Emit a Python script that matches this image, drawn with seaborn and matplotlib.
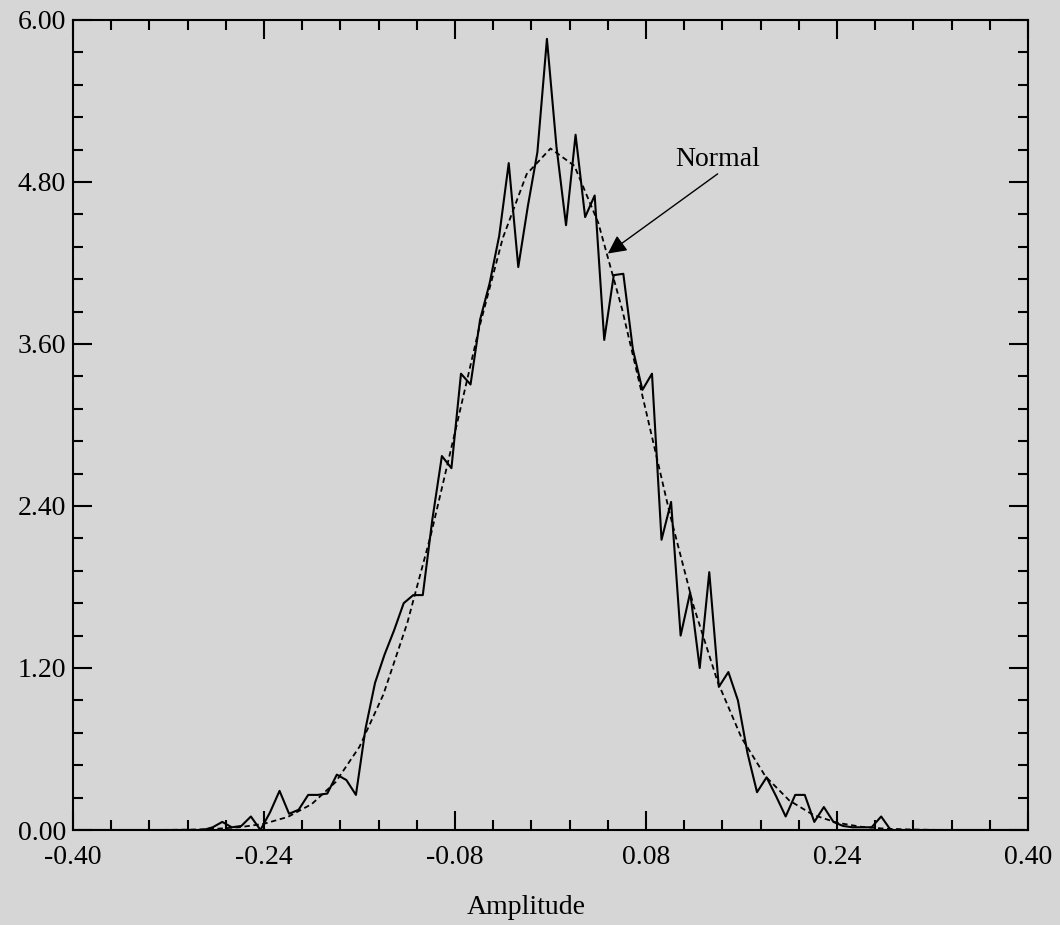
import numpy as np
import matplotlib
matplotlib.use("Agg")
import matplotlib.pyplot as plt
import seaborn as sns

# Distribuzione dell'ampiezza: istogramma normalizzato (100 classi) + curva normale

# Classi dell'istogramma (centro della prima classe e larghezza)
amp_start = -0.395
amp_step = 0.008

# Densità, una per classe
densita = [
    0, 0, 0, 0, 0, 0, 0, 0, 0, 0, 0, 0, 0, 0,
    0.02, 0.06, 0.02, 0.03, 0.10, 0.00, 0.13, 0.29, 0.12, 0.15,
    0.26, 0.26, 0.27, 0.41, 0.37, 0.26, 0.75, 1.09, 1.30, 1.48,
    1.68, 1.74, 1.74, 2.30, 2.77, 2.68, 3.38, 3.30, 3.78, 4.05,
    4.40, 4.94, 4.17, 4.62, 5.02, 5.86, 5.06, 4.48, 5.15, 4.54,
    4.70, 3.63, 4.11, 4.12, 3.56, 3.26, 3.38, 2.15, 2.43, 1.44,
    1.76, 1.20, 1.91, 1.06, 1.17, 0.96, 0.57, 0.28, 0.39, 0.25,
    0.10, 0.26, 0.26, 0.06, 0.17, 0.06, 0.03, 0.02, 0.02, 0.02,
    0.10,
    0, 0, 0, 0, 0, 0, 0, 0, 0, 0, 0, 0, 0, 0, 0,
]

# Curva normale (passo 0.02)
normale_x = [
    -0.40, -0.38, -0.36, -0.34, -0.32, -0.30, -0.28, -0.26, -0.24, -0.22,
    -0.20, -0.18, -0.16, -0.14, -0.12, -0.10, -0.08, -0.06, -0.04, -0.02,
    0.00, 0.02, 0.04, 0.06, 0.08, 0.10, 0.12, 0.14, 0.16, 0.18,
    0.20, 0.22, 0.24, 0.26, 0.28, 0.30, 0.32, 0.34, 0.36, 0.38, 0.40,
]
normale_y = [
    0, 0, 0, 0, 0.001, 0.003, 0.009, 0.021, 0.046, 0.097,
    0.192, 0.355, 0.617, 1.004, 1.533, 2.194, 2.947, 3.711, 4.384, 4.858,
    5.048, 4.920, 4.498, 3.857, 3.103, 2.340, 1.655, 1.098, 0.683, 0.398,
    0.219, 0.112, 0.054, 0.024, 0.010, 0.004, 0.001, 0, 0, 0, 0,
]

# Etichette assi
x_ticks = [-0.40, -0.24, -0.08, 0.08, 0.24, 0.40]
y_ticks = [0.00, 1.20, 2.40, 3.60, 4.80, 6.00]

amp_x = amp_start + amp_step * np.arange(len(densita))

# Stile
sns.set_style("ticks")
grigio = "#d6d6d6"
plt.rcParams["font.family"] = ["Liberation Serif", "DejaVu Serif"]
plt.rcParams["font.size"] = 20
plt.rcParams["axes.linewidth"] = 1.5
plt.rcParams["text.color"] = "black"
plt.rcParams["axes.labelcolor"] = "black"
plt.rcParams["xtick.color"] = "black"
plt.rcParams["ytick.color"] = "black"

fig = plt.figure(figsize=(10.6, 9.25), dpi=100, facecolor=grigio)
ax = fig.add_axes([0.0689, 0.1027, 0.9009, 0.8757])
ax.set_facecolor(grigio)

# Istogramma come linea spezzata
sns.lineplot(x=amp_x, y=densita, ax=ax, color="black", linewidth=1.5)

# Curva normale tratteggiata
sns.lineplot(x=normale_x, y=normale_y, ax=ax, color="black",
             linewidth=1.3, linestyle=(0, (3, 2)))

# Annotazione
ax.text(0.140, 4.97, "Normal", ha="center", va="center", fontsize=20,
        color="black")
ax.annotate("", xy=(0.048, 4.27), xytext=(0.140, 4.86),
            arrowprops=dict(arrowstyle="-|>", color="black", lw=1.0,
                            mutation_scale=28, shrinkA=0, shrinkB=0))

# Assi
ax.set_xlim(-0.40, 0.40)
ax.set_ylim(0, 6.0)
ax.set_xticks(x_ticks)
ax.set_xticklabels(["%.2f" % v for v in x_ticks])
ax.set_yticks(y_ticks)
ax.set_yticklabels(["%.2f" % v for v in y_ticks])
ax.set_xticks(np.round(np.arange(-0.40, 0.401, 0.032), 3), minor=True)
ax.set_yticks(np.round(np.arange(0, 6.01, 0.24), 2), minor=True)

ax.tick_params(which="both", direction="in", top=True, right=True,
               color="black", labelcolor="black", width=1.5, labelsize=20)
ax.tick_params(which="major", length=13.5)
ax.tick_params(which="minor", length=7)
ax.tick_params(axis="x", pad=11)
ax.tick_params(axis="y", pad=5)

for spine in ax.spines.values():
    spine.set_color("black")

ax.set_xlabel("Amplitude", fontsize=20, color="black")
ax.xaxis.set_label_coords(0.475, -0.080)
ax.set_ylabel("")

plt.savefig("out.png", dpi=100, facecolor=grigio)
